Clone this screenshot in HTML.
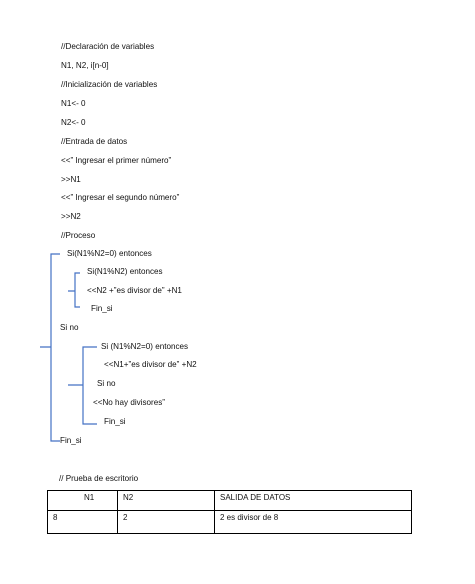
<!DOCTYPE html>
<html><head><meta charset="utf-8"><style>
body{margin:0;width:475px;height:584px;background:#fff;position:relative;overflow:hidden;font-family:"Liberation Sans",sans-serif;font-size:8.1px;color:#111}
.t{position:absolute;white-space:nowrap;line-height:10px}
table{position:absolute;left:47px;top:490px;border-collapse:collapse;font-size:8px}
td{border:1px solid #000;padding:0 5px;vertical-align:top;line-height:14px}
</style></head><body>
<div class="t" style="left:61px;top:42px">//Declaración de variables</div>
<div class="t" style="left:61px;top:61px">N1, N2, i[n-0]</div>
<div class="t" style="left:61px;top:80px">//Inicialización de variables</div>
<div class="t" style="left:61px;top:99px">N1&lt;- 0</div>
<div class="t" style="left:61px;top:118px">N2&lt;- 0</div>
<div class="t" style="left:61px;top:137px">//Entrada de datos</div>
<div class="t" style="left:61px;top:156px">&lt;&lt;” Ingresar el primer número”</div>
<div class="t" style="left:61px;top:175px">&gt;&gt;N1</div>
<div class="t" style="left:61px;top:193px">&lt;&lt;” Ingresar el segundo número”</div>
<div class="t" style="left:61px;top:212px">&gt;&gt;N2</div>
<div class="t" style="left:61px;top:231px">//Proceso</div>
<div class="t" style="left:67px;top:249px">Si(N1%N2=0) entonces</div>
<div class="t" style="left:87px;top:267px">Si(N1%N2) entonces</div>
<div class="t" style="left:87px;top:286px">&lt;&lt;N2 +”es divisor de” +N1</div>
<div class="t" style="left:91px;top:304px">Fin_si</div>
<div class="t" style="left:60px;top:323px">Si no</div>
<div class="t" style="left:101px;top:342px">Si (N1%N2=0) entonces</div>
<div class="t" style="left:104px;top:360px">&lt;&lt;N1+”es divisor de” +N2</div>
<div class="t" style="left:97px;top:379px">Si no</div>
<div class="t" style="left:93px;top:398px">&lt;&lt;No hay divisores”</div>
<div class="t" style="left:104px;top:417px">Fin_si</div>
<div class="t" style="left:60px;top:436px">Fin_si</div>
<div class="t" style="left:59px;top:474px">// Prueba de escritorio</div>
<svg width="475" height="584" style="position:absolute;left:0;top:0" fill="none" stroke="#4472c4" stroke-width="1.2">
<path d="M60 254 H51 V441 H60 M40 347 H51"/>
<path d="M80 273 H75 V307 H80 M68 291 H75"/>
<path d="M97 347 H83 V424 H97 M68 385 H83"/>
</svg>
<table><tr style="height:20px"><td style="padding-left:36px;box-sizing:border-box;width:70px">N1</td><td style="width:86px">N2</td><td style="width:186px">SALIDA DE DATOS</td></tr>
<tr style="height:23px"><td>8</td><td>2</td><td>2 es divisor de 8</td></tr></table>
</body></html>
